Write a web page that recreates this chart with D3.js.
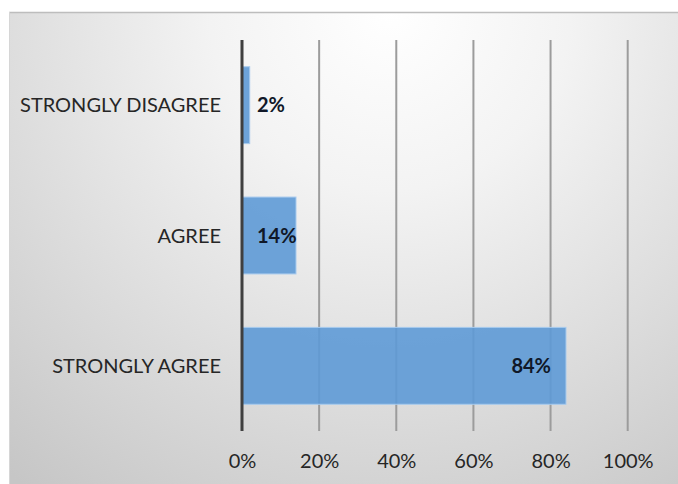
<!DOCTYPE html>
<html>
<head>
<meta charset="utf-8">
<script src="https://cdn.jsdelivr.net/npm/d3@7"></script>
<style>
  html, body { margin: 0; padding: 0; background: #ffffff; }
  svg { display: block; }
</style>
</head>
<body>
<svg id="chart" width="678" height="484"></svg>
<script>
// Survey responses, top to bottom
const categories = ["STRONGLY DISAGREE", "AGREE", "STRONGLY AGREE"];
const shares = [0.02, 0.14, 0.84];
const tickValues = [0, 0.2, 0.4, 0.6, 0.8, 1.0];

const W = 678, H = 484;
const plot = { left: 242, right: 627.7, top: 40, bottom: 431 };
const font = "Lato, 'Open Sans', sans-serif";

const svg = d3.select("#chart");
const defs = svg.append("defs");

// Panel background: soft radial fade from white at top to grey
const grad = defs.append("radialGradient")
  .attr("id", "panelFill")
  .attr("gradientUnits", "userSpaceOnUse")
  .attr("cx", 390).attr("cy", 10).attr("r", 600);
grad.append("stop").attr("offset", 0).attr("stop-color", "#ffffff");
grad.append("stop").attr("offset", 0.3).attr("stop-color", "#f3f3f3");
grad.append("stop").attr("offset", 1).attr("stop-color", "#c6c6c6");

svg.append("rect")
  .attr("x", 9).attr("y", 12)
  .attr("width", W - 9).attr("height", H - 12)
  .attr("fill", "url(#panelFill)");
svg.append("line")
  .attr("x1", 9).attr("x2", W).attr("y1", 12.5).attr("y2", 12.5)
  .attr("stroke", "#bdbdbd").attr("stroke-width", 1.5);
svg.append("line")
  .attr("x1", 9.5).attr("x2", 9.5).attr("y1", 12).attr("y2", H)
  .attr("stroke", "#d6d6d6").attr("stroke-width", 1);

const x = d3.scaleLinear().domain([0, 1]).range([plot.left, plot.right]);
const y = d3.scaleBand().domain(categories)
  .range([plot.top, plot.bottom])
  .paddingInner(0.41).paddingOuter(0.205);

// Vertical gridlines
svg.append("g")
  .selectAll("line")
  .data(tickValues.slice(1))
  .join("line")
  .attr("x1", d => x(d)).attr("x2", d => x(d))
  .attr("y1", plot.top).attr("y2", plot.bottom)
  .attr("stroke", "#9c9c9c").attr("stroke-width", 2);

// Bars
svg.append("g")
  .selectAll("rect")
  .data(categories)
  .join("rect")
  .attr("x", x(0))
  .attr("y", d => y(d))
  .attr("width", (d, i) => x(shares[i]) - x(0))
  .attr("height", y.bandwidth())
  .attr("fill", "#5e9ad6")
  .attr("fill-opacity", 0.9)
  .attr("stroke", "#a8cbee")
  .attr("stroke-width", 1);

// Category axis line
svg.append("line")
  .attr("x1", x(0)).attr("x2", x(0))
  .attr("y1", plot.top).attr("y2", plot.bottom)
  .attr("stroke", "#3f3f3f").attr("stroke-width", 3);

// Category labels
svg.append("g")
  .selectAll("text")
  .data(categories)
  .join("text")
  .attr("x", 221)
  .attr("y", d => y(d) + y.bandwidth() / 2)
  .attr("dy", "0.36em")
  .attr("text-anchor", "end")
  .attr("font-family", font)
  .attr("font-size", 20)
  .attr("fill", "#262626")
  .text(d => d);

// Value axis labels
const xAxis = d3.axisBottom(x)
  .tickValues(tickValues)
  .tickFormat(d3.format(".0%"))
  .tickSize(0)
  .tickPadding(0);
const gx = svg.append("g")
  .attr("transform", `translate(0, ${plot.bottom + 23})`)
  .call(xAxis);
gx.select(".domain").remove();
gx.selectAll("text")
  .attr("font-family", font)
  .attr("font-size", 20)
  .attr("fill", "#262626");

// Value labels: right-aligned near the bar end, kept clear of the axis
const fmt = d3.format(".0%");
const labels = svg.append("g")
  .selectAll("text")
  .data(categories)
  .join("text")
  .attr("y", d => y(d) + y.bandwidth() / 2)
  .attr("dy", "0.36em")
  .attr("font-family", font)
  .attr("font-size", 20)
  .attr("font-weight", "bold")
  .attr("fill", "#101828")
  .text((d, i) => fmt(shares[i]));
labels.each(function(d, i) {
  const w = this.getComputedTextLength();
  let start = x(shares[i]) - 15 - w;
  if (start < x(0) + 15) start = x(0) + 15;
  d3.select(this).attr("x", start);
});
</script>
</body>
</html>
